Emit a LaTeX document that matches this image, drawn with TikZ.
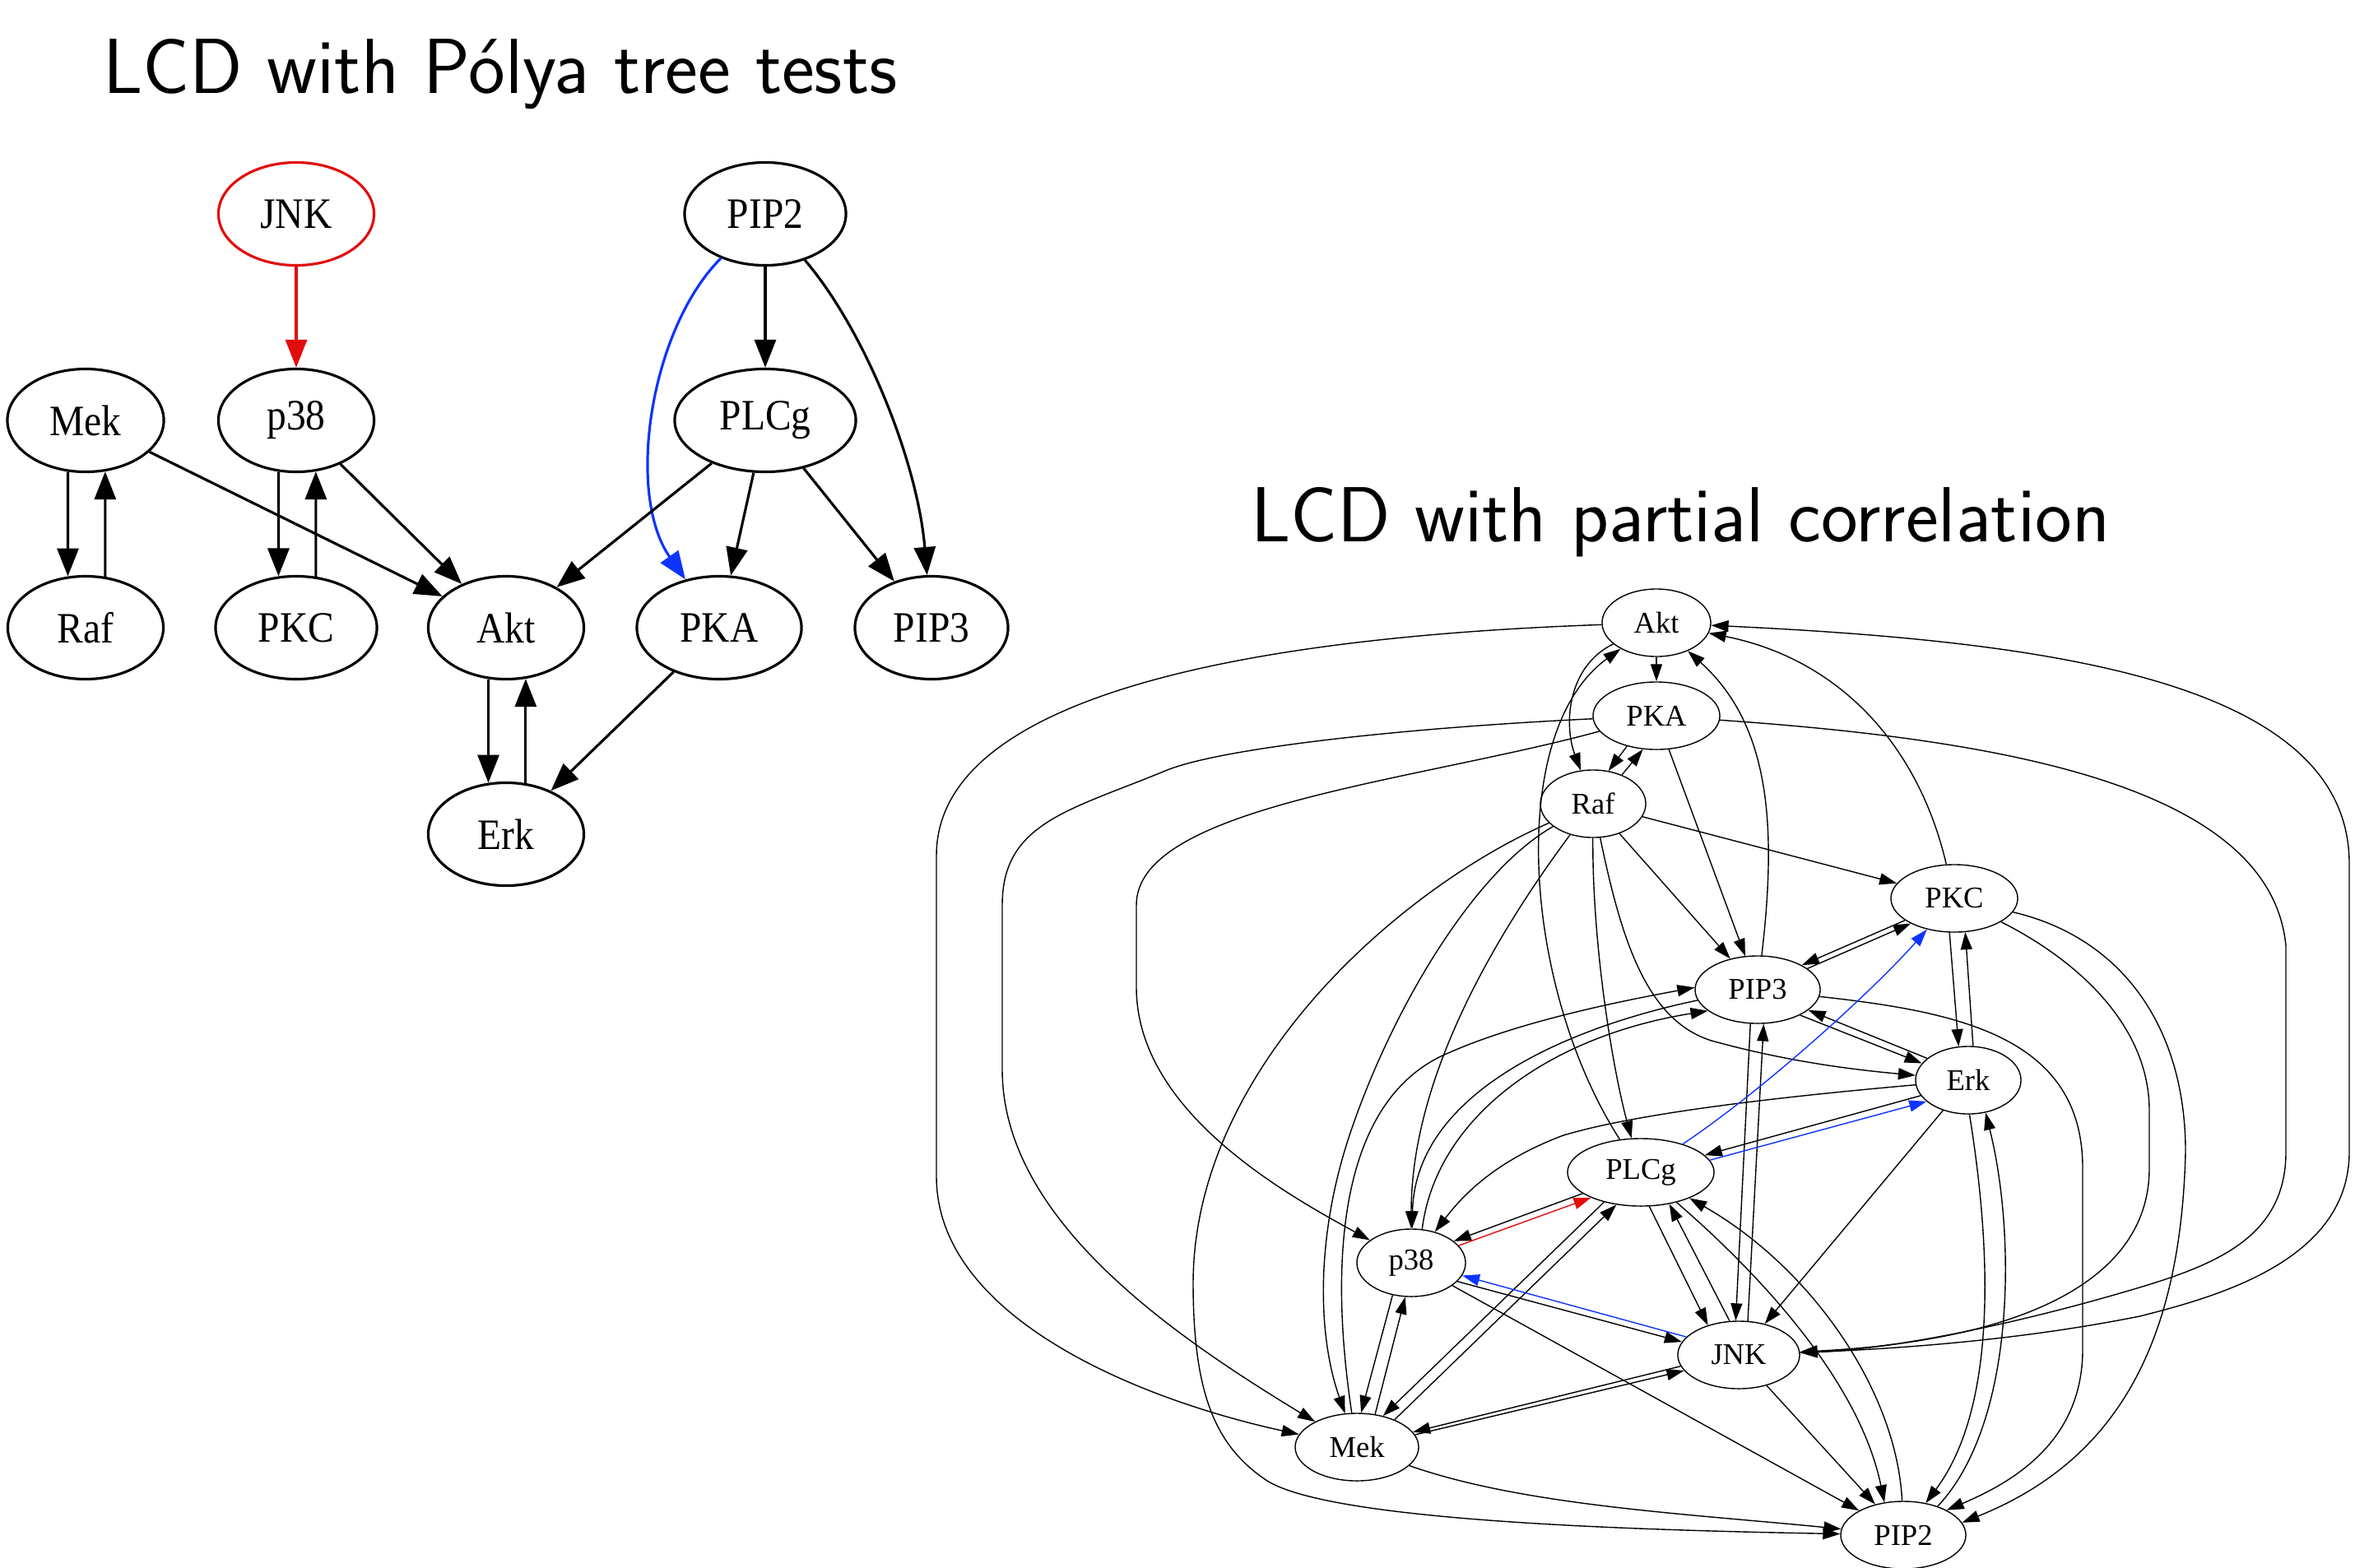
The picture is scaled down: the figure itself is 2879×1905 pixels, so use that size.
\documentclass[tikz,border=0pt]{standalone}
\usepackage{fontspec}
\usetikzlibrary{shapes.geometric,arrows.meta}
\newfontfamily\lnodefont[FakeStretch=0.9]{Liberation Serif}
\newfontfamily\rnodefont{Liberation Serif}
\definecolor{edgered}{RGB}{226,12,12}
\definecolor{edgeblue}{RGB}{12,52,255}
\tikzset{
  lnode/.style={ellipse, draw, line width=0.9pt, inner sep=0pt, minimum height=1.25cm,
    font=\lnodefont\fontsize{15}{18}\selectfont},
  rnode/.style={ellipse, draw, line width=0.4pt, inner sep=0pt, minimum height=0.82cm,
    font=\rnodefont\fontsize{10.4}{12}\selectfont},
  ledge/.style={line width=0.9pt, -{Triangle[length=0.34cm,width=0.26cm]}},
  redge/.style={line width=0.4pt, -{Triangle[length=0.21cm,width=0.14cm]}},
  title/.style={anchor=base, inner sep=0pt, font=\sffamily\fontsize{27}{32}\selectfont},
}
\begin{document}
\begin{tikzpicture}[x=0.01cm, y=-0.01cm]
\useasboundingbox (0,0) rectangle (2879,1905);

% ---------------- titles ----------------
\node[title] (t1) at (608,113) {LCD with Pólya tree tests};
\node[title] (t2) at (2042,658) {LCD with partial correlation};

% ---------------- Pólya tree graph ----------------
\node[lnode, draw=edgered, minimum width=1.89cm] (ljnk) at (360,260) {JNK};
\node[lnode, minimum width=1.96cm] (lpip2) at (930,260) {PIP2};
\node[lnode, minimum width=1.90cm] (lmek) at (104,511) {Mek};
\node[lnode, minimum width=1.89cm] (lp38) at (360,511) {p38};
\node[lnode, minimum width=2.20cm] (lplcg) at (930,511) {PLCg};
\node[lnode, minimum width=1.89cm] (lraf) at (104,763) {Raf};
\node[lnode, minimum width=1.96cm] (lpkc) at (360,763) {PKC};
\node[lnode, minimum width=1.89cm] (lakt) at (615,763) {Akt};
\node[lnode, minimum width=2.00cm] (lpka) at (874,763) {PKA};
\node[lnode, minimum width=1.86cm] (lpip3) at (1132,763) {PIP3};
\node[lnode, minimum width=1.89cm] (lerk) at (615,1014) {Erk};

\draw[ledge, edgered] (ljnk) -- (lp38);
\draw[ledge] (lpip2) -- (lplcg);
\draw[ledge] (lpip2) .. controls (1050,400) and (1115,560) .. (lpip3);
\draw[ledge, edgeblue] (lpip2) .. controls (790,400) and (760,600) .. (lpka);
\draw[ledge] (lmek.251) -- (lraf.109);
\draw[ledge] (lraf.69) -- (lmek.291);
\draw[ledge] (lp38.251) -- (lpkc.109);
\draw[ledge] (lpkc.69) -- (lp38.291);
\draw[ledge] (lmek) -- (lakt);
\draw[ledge] (lp38) -- (lakt);
\draw[ledge] (lplcg) -- (lakt);
\draw[ledge] (lplcg) -- (lpka);
\draw[ledge] (lplcg) -- (lpip3);
\draw[ledge] (lakt.251) -- (lerk.109);
\draw[ledge] (lerk.69) -- (lakt.291);
\draw[ledge] (lpka) -- (lerk);

% ---------------- partial correlation graph ----------------
\node[rnode, minimum width=1.32cm] (akt) at (2013,757) {Akt};
\node[rnode, minimum width=1.54cm] (pka) at (2013,870) {PKA};
\node[rnode, minimum width=1.28cm] (raf) at (1936,977) {Raf};
\node[rnode, minimum width=1.54cm] (pkc) at (2375,1092) {PKC};
\node[rnode, minimum width=1.52cm] (pip3) at (2136,1203) {PIP3};
\node[rnode, minimum width=1.28cm] (erk) at (2392,1313) {Erk};
\node[rnode, minimum width=1.78cm] (plcg) at (1994,1425) {PLCg};
\node[rnode, minimum width=1.32cm] (p38) at (1715,1535) {p38};
\node[rnode, minimum width=1.48cm] (jnk) at (2113,1647) {JNK};
\node[rnode, minimum width=1.50cm] (mek) at (1649,1759) {Mek};
\node[rnode, minimum width=1.52cm] (pip2) at (2313,1866) {PIP2};

% edges at Akt
\draw[redge] (akt) -- (pka);
\draw[redge] (akt) .. controls (1500,775) and (1138,850) .. (1138,1040) -- (1138,1430)
  .. controls (1138,1600) and (1380,1700) .. (mek);
\draw[redge] (akt) .. controls (1905,810) and (1900,880) .. (raf);
\draw[redge] (plcg) .. controls (1850,1200) and (1830,890) .. (akt);
\draw[redge] (pip3) .. controls (2160,1000) and (2150,880) .. (akt);
\draw[redge] (pkc) .. controls (2330,900) and (2230,800) .. (akt);
\draw[redge] (jnk) .. controls (2300,1640) and (2450,1630) .. (2600,1600)
  .. controls (2700,1575) and (2855,1530) .. (2855,1400) -- (2855,1050)
  .. controls (2855,830) and (2500,780) .. (akt);

% edges at PKA
\draw[redge] (pka) .. controls (1700,885) and (1480,910) .. (1416,937)
  .. controls (1300,985) and (1218,1000) .. (1218,1100) -- (1218,1300)
  .. controls (1218,1480) and (1420,1620) .. (mek);
\draw[redge] (pka) .. controls (1720,950) and (1381,980) .. (1381,1100) -- (1381,1200)
  .. controls (1381,1350) and (1560,1450) .. (p38);
\draw[redge] (pka) .. controls (2450,900) and (2760,960) .. (2778,1150) -- (2778,1400)
  .. controls (2778,1500) and (2700,1535) .. (2600,1565)
  .. controls (2450,1610) and (2300,1640) .. (jnk);
\draw[redge] (pka.226) -- (raf.65);
\draw[redge] (raf.45) -- (pka.248);
\draw[redge] (pka) -- (pip3);

% edges at Raf
\draw[redge] (raf) -- (pkc);
\draw[redge] (raf) -- (pip3);
\draw[redge] (raf) .. controls (1935,1150) and (1960,1300) .. (plcg);
\draw[redge] (raf) .. controls (1970,1140) and (2000,1240) .. (2080,1265)
  .. controls (2170,1290) and (2250,1300) .. (erk);
\draw[redge] (raf) .. controls (1830,1120) and (1715,1300) .. (p38);
\draw[redge] (raf) .. controls (1790,1060) and (1690,1230) .. (1640,1380)
  .. controls (1600,1500) and (1600,1620) .. (mek);
\draw[redge] (raf) .. controls (1700,1080) and (1450,1300) .. (1450,1560)
  .. controls (1450,1700) and (1480,1760) .. (1540,1800)
  .. controls (1620,1850) and (2000,1860) .. (pip2);

% edges at PKC
\draw[redge] (pkc.204) -- (pip3.29);
\draw[redge] (pip3.23) -- (pkc.210);
\draw[redge] (pkc.-98) -- (erk.106);
\draw[redge] (erk.82) -- (pkc.-72);
\draw[redge] (pkc) .. controls (2530,1170) and (2612,1250) .. (2612,1350) -- (2612,1420)
  .. controls (2612,1560) and (2450,1630) .. (jnk);
\draw[redge] (pkc) .. controls (2580,1140) and (2656,1250) .. (2656,1400)
  .. controls (2650,1650) and (2560,1780) .. (pip2.12);

% edges at PIP3
\draw[redge] (pip3) .. controls (2380,1230) and (2531,1260) .. (2531,1420) -- (2531,1640)
  .. controls (2531,1750) and (2450,1800) .. (pip2.30);
\draw[redge] (pip3.258) -- (jnk.95);
\draw[redge] (jnk.75) -- (pip3.-80);
\draw[redge] (pip3.-31) -- (erk.160);
\draw[redge] (erk.152) -- (pip3.-22);
\draw[redge] (pip3.190) .. controls (1900,1250) and (1720,1330) .. (p38);

% edges at Erk
\draw[redge] (erk) -- (jnk);
\draw[redge] (erk.-88) .. controls (2425,1550) and (2420,1720) .. (pip2.55);
\draw[redge] (pip2.40) .. controls (2450,1730) and (2450,1500) .. (erk.-62);
\draw[redge] (erk.198) -- (plcg.15);
\draw[redge, edgeblue] (plcg.10) -- (erk.207);
\draw[redge] (erk) .. controls (2200,1330) and (2000,1350) .. (1900,1380)
  .. controls (1820,1410) and (1780,1450) .. (p38);

% edges at PLCg
\draw[redge, edgeblue] (plcg) .. controls (2150,1320) and (2280,1200) .. (pkc);
\draw[redge] (plcg.-76) -- (jnk.136);
\draw[redge] (jnk.105) -- (plcg.-48);
\draw[redge] (plcg.-40) .. controls (2140,1550) and (2260,1680) .. (pip2.120);
\draw[redge] (pip2.92) .. controls (2305,1690) and (2200,1540) .. (plcg.-28);
\draw[redge] (plcg.200) -- (p38.27);
\draw[redge, edgered] (p38.20) -- (plcg.207);
\draw[redge] (plcg.219) -- (mek.50);
\draw[redge] (mek.36) -- (plcg.233);

% edges at p38, JNK and Mek
\draw[redge] (p38.240) -- (mek.83);
\draw[redge] (mek.61) -- (p38.-100);
\draw[redge] (p38.-22) -- (jnk.167);
\draw[redge, edgeblue] (jnk.161) -- (p38.-14);
\draw[redge] (jnk.191) -- (mek.15);
\draw[redge] (mek.12) -- (jnk.196);
\draw[redge] (p38) -- (pip2);
\draw[redge] (jnk) -- (pip2);
\draw[redge] (mek) .. controls (1850,1830) and (2050,1840) .. (pip2);
\draw[redge] (mek) .. controls (1610,1500) and (1640,1330) .. (1760,1280)
  .. controls (1850,1240) and (1980,1215) .. (pip3.178);
\draw[redge] (p38.72) .. controls (1745,1360) and (1880,1260) .. (pip3.203);
\end{tikzpicture}
\end{document}
